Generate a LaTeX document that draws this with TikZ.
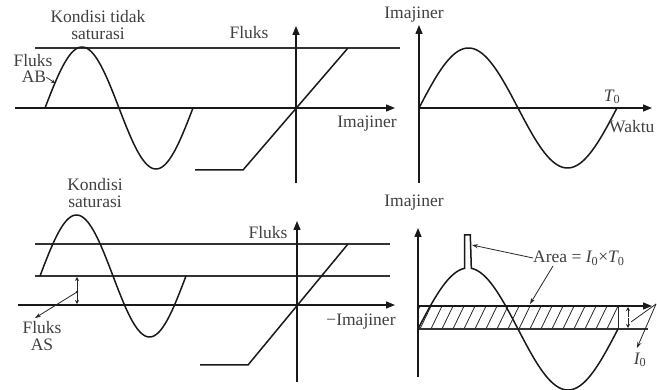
\documentclass[tikz,border=0pt]{standalone}
\usepackage{fontspec}
\setmainfont{Liberation Serif}
\usetikzlibrary{arrows.meta}
\begin{document}
\begin{tikzpicture}[x=1pt,y=-1pt,
  ln/.style={line width=1.3pt, black!80},
  crv/.style={line width=1.5pt, black!90},
  ax/.style={line width=1.4pt, black!90, -{Triangle[length=9pt,width=7pt]}},
  lbl/.style={font=\fontsize{17.5}{19}\selectfont, text=black!75, inner sep=0pt},
  ann/.style={line width=0.8pt, black!85, -{Stealth[length=6pt,width=4pt]}},
  tiny/.style={line width=0.7pt, black!85, -{Stealth[length=4pt,width=4pt]}}
]
\useasboundingbox (0,0) rectangle (657,390);

% ---------- top left ----------
\node[lbl,anchor=base] (kt1) at (98,23) {Kondisi tidak};
\node[lbl,anchor=base] (kt2) at (98,40) {saturasi};
\draw[ln] (35,48) -- (400,48);
\draw[ax] (15,108) -- (395,108);
\draw[crv] plot[domain=0:360,samples=120] ({45+\x/360*148},{108-61*sin(\x)});
\node[lbl,anchor=base] (fab1) at (33,67) {Fluks};
\node[lbl,anchor=base] (fab2) at (34,83) {AB};
\coordinate (abtip) at (55,83);
\draw[tiny] (fab2.east) -- (abtip);

% ---------- top middle ----------
\draw[ax] (296,183) -- (296,26);
\node[lbl] (fl1) at (249,33) {Fluks};
\node[lbl] (im1) at (367,124) {Imajiner};
\draw[crv] (195,170) -- (243,170) -- (348,48);

% ---------- top right ----------
\node[lbl] (im2) at (414,15) {Imajiner};
\draw[ax] (419,183) -- (419,25);
\draw[ax] (419,108) -- (652,108);
\draw[crv] plot[domain=0:360,samples=120] ({419+\x/360*198},{108-60*sin(\x)});
\node[lbl] (t0) at (612,97) {\itshape T\textsubscript{\upshape 0}};
\node[lbl,anchor=west] (wk) at (609,127) {Waktu};

% ---------- bottom left ----------
\node[lbl,anchor=base] (ks1) at (95,191) {Kondisi};
\node[lbl,anchor=base] (ks2) at (95,208) {saturasi};
\draw[ln] (35,244) -- (390,244);
\draw[ln] (35,276) -- (390,276);
\draw[ax] (18,305) -- (395,305);
\draw[crv] plot[domain=0:360,samples=120] ({40+\x/360*146},{276-61*sin(\x)});
\coordinate (dot) at (77,292);
\fill[black!85] (dot) circle (1.3pt);
\draw[tiny] (dot) -- (77,277);
\draw[tiny] (dot) -- (77,304);
\node[lbl,anchor=base] (fas1) at (42,334) {Fluks};
\node[lbl,anchor=base] (fas2) at (42,351) {AS};
\coordinate (astip) at (35,318);
\draw[ann] (dot) -- (astip);

% ---------- bottom middle ----------
\draw[ax] (297,382) -- (297,221);
\node[lbl] (fl2) at (268,233) {Fluks};
\node[lbl] (im3) at (361,322) {−Imajiner};
\draw[crv] (200,365) -- (248,365) -- (348,244);

% ---------- bottom right ----------
\node[lbl] (im4) at (414,203) {Imajiner};
\begin{scope}
  \clip (418,306) rectangle (618,329);
  \foreach \k in {0,...,20} {
    \draw[line width=0.8pt, black!85] ({408+\k*11},331) -- ({421+\k*11},304);
  }
\end{scope}
\draw[line width=1pt, black!85] (418,306) rectangle (618,329);
\draw[ln] (418,329) -- (648,329);
\draw[ax] (418,377) -- (418,228);
\draw[ax] (418,306) -- (652,306);
\draw[crv] plot[domain=0:84,samples=40] ({418+\x/360*200},{329-61*sin(\x)})
  -- (464.7,235) -- (470.3,235)
  -- plot[domain=96:360,samples=120] ({418+\x/360*200},{329-61*sin(\x)});
\node[lbl,anchor=west] (area) at (533,258) {Area = {\itshape I}\textsubscript{0}×{\itshape T}\textsubscript{0}};
\coordinate (spk) at (472,245);
\coordinate (rtop) at (530,304);
\draw[ann] (area.west) -- (spk);
\draw[ann] (553,266) -- (rtop);
\draw[tiny] (628,317) -- (628,307);
\draw[tiny] (628,318) -- (628,328);
\coordinate (vpt) at (656,304);
\draw[line width=0.8pt, black!85] (631,322) -- (vpt);
\node[lbl] (i0) at (640,360) {\itshape I\textsubscript{\upshape 0}};
\draw[ann] (vpt) -- (637,348);
\end{tikzpicture}
\end{document}
